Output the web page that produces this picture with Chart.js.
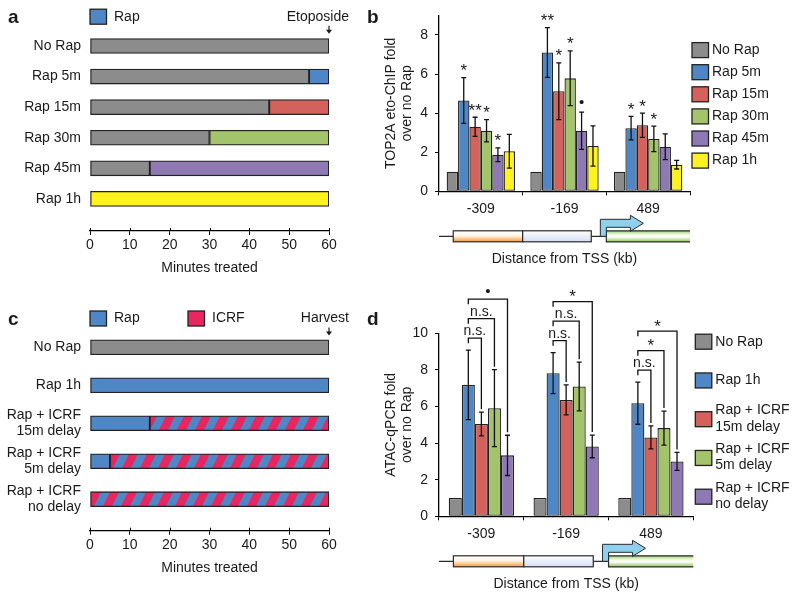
<!DOCTYPE html>
<html>
<head>
<meta charset="utf-8">
<title>Rap / ICRF time course and TOP2A / ATAC enrichment</title>
<script src="https://cdn.jsdelivr.net/npm/chart.js@4.4.1/dist/chart.umd.min.js"></script>
<style>
  body { margin: 0; background: #fff; }
  #page { position: relative; width: 800px; height: 599px; overflow: hidden; font-family: "Liberation Sans", Arial, sans-serif; color: #1a1a1a; }
  .panel { position: absolute; }
  .tag { position: absolute; font-size: 19px; font-weight: bold; line-height: 19px; }
</style>
</head>
<body>
<div id="page">
  <canvas class="panel" id="timeA" width="380" height="280" style="left:0;top:0"></canvas>
  <canvas class="panel" id="chipB" width="420" height="280" style="left:380px;top:0"></canvas>
  <canvas class="panel" id="timeC" width="380" height="319" style="left:0;top:280px"></canvas>
  <canvas class="panel" id="atacD" width="420" height="319" style="left:380px;top:280px"></canvas>
  <div class="tag" style="left:8px;top:7px">a</div>
  <div class="tag" style="left:367px;top:7px">b</div>
  <div class="tag" style="left:8px;top:309px">c</div>
  <div class="tag" style="left:367px;top:309px">d</div>
</div>

<script>
// ===============================================
// Data
// ===============================================

// panel a - minutes before / after Rap, etoposide at 60
const aRows = ['No Rap', 'Rap 5m', 'Rap 15m', 'Rap 30m', 'Rap 45m', 'Rap 1h'];
const aNoRapMin = [60, 55, 45, 30, 15, 0];
const aRapMin = [0, 5, 15, 30, 45, 60];

// panel b - TOP2A eto-ChIP fold over no Rap
const loci = ['-309', '-169', '489'];
const bSeries = ['No Rap', 'Rap 5m', 'Rap 15m', 'Rap 30m', 'Rap 45m', 'Rap 1h'];
const bNoRap = [1, 1, 1];
const bRap5m = [4.65, 7.10, 3.23];
const bRap15m = [3.30, 5.12, 3.38];
const bRap30m = [3.10, 5.78, 2.68];
const bRap45m = [1.87, 3.10, 2.28];
const bRap1h = [2.05, 2.32, 1.36];
const bErr5m = [1.17, 1.27, 0.60];
const bErr15m = [0.49, 1.45, 0.62];
const bErr30m = [0.57, 1.40, 0.65];
const bErr45m = [0.35, 0.95, 0.66];
const bErr1h = [0.86, 1.03, 0.22];
const bSig5m = ['*', '**', '*'];
const bSig15m = ['**', '*', '*'];
const bSig30m = ['*', '*', '*'];
const bSig45m = ['*', '\u2022', ''];
const bSig1h = ['', '', ''];

// panel c - Rap and ICRF timing, harvest at 60
const cRows = ['No Rap', 'Rap 1h', ['Rap + ICRF', '15m delay'], ['Rap + ICRF', '5m delay'], ['Rap + ICRF', 'no delay']];
const cNoRapMin = [60, 0, 0, 0, 0];
const cRapMin = [0, 60, 15, 5, 0];
const cIcrfMin = [0, 0, 45, 55, 60];

// panel d - ATAC-qPCR fold over no Rap
const dSeries = [['No Rap'], ['Rap 1h'], ['Rap + ICRF', '15m delay'], ['Rap + ICRF', '5m delay'], ['Rap + ICRF', 'no delay']];
const dNoRap = [1, 1, 1];
const dRap1h = [7.18, 7.82, 6.18];
const dDelay15 = [5.04, 6.36, 4.31];
const dDelay5 = [5.91, 7.09, 4.82];
const dNoDelay = [3.33, 3.82, 3.00];
const dErr1h = [1.90, 1.12, 1.15];
const dErr15 = [0.65, 0.82, 0.63];
const dErr5 = [2.10, 1.33, 0.93];
const dErr0 = [1.10, 0.62, 0.49];
// Rap 1h compared with each ICRF condition
const dSig15 = ['n.s.', 'n.s.', 'n.s.'];
const dSig5 = ['n.s.', 'n.s.', '*'];
const dSig0 = ['\u2022', '*', '*'];

// ===============================================
// Styles
// ===============================================
const GREY = '#8c8c8c';
const BLUE = '#4f87c6';
const RED = '#d2625b';
const GREEN = '#a3c46b';
const PURPLE = '#8e79b5';
const YELLOW = '#fff21e';
const PINK = '#e8265f';
const EDGE = '#222';
const INK = '#1a1a1a';
const FONT = '"Liberation Sans", Arial, Helvetica, sans-serif';

Chart.defaults.font.family = FONT;
Chart.defaults.font.size = 14;
Chart.defaults.color = INK;
Chart.defaults.animation = false;
Chart.defaults.plugins.legend.display = false;
Chart.defaults.plugins.tooltip.enabled = false;

// diagonal blue / pink stripes for ICRF
function makeStripes() {
    const tile = document.createElement('canvas');
    tile.width = 18;
    tile.height = 36;
    const g = tile.getContext('2d');
    g.fillStyle = BLUE;
    g.fillRect(0, 0, 18, 36);
    g.fillStyle = PINK;
    [-18, 0, 18].forEach(k => {
        g.beginPath();
        g.moveTo(k, 36);
        g.lineTo(k + 9, 36);
        g.lineTo(k + 27, 0);
        g.lineTo(k + 18, 0);
        g.closePath();
        g.fill();
    });
    return g.createPattern(tile, 'repeat');
}
const STRIPES = makeStripes();

// ===============================================
// Drawing helpers
// ===============================================
function keyBox(ctx, x, cy, fill) {
    ctx.fillStyle = fill;
    ctx.fillRect(x, cy - 7.5, 16.5, 15);
    ctx.strokeStyle = EDGE;
    ctx.lineWidth = 1.3;
    ctx.strokeRect(x, cy - 7.5, 16.5, 15);
}

// centre a significance mark visually on cy
function drawMark(ctx, text, x, cy) {
    if (!text) return;
    ctx.textAlign = 'center';
    ctx.textBaseline = 'alphabetic';
    ctx.fillStyle = INK;
    if (/^\*+$/.test(text)) {
        ctx.font = '17px ' + FONT;
        ctx.fillText(text, x, cy + 0.56 * 17);
    } else if (text === '\u2022') {
        ctx.font = '15px ' + FONT;
        ctx.fillText(text, x, cy + 0.37 * 15);
    } else {
        ctx.font = '14px ' + FONT;
        ctx.fillText(text, x, cy + 0.26 * 14);
    }
}

function downArrow(ctx, x, y1, y2) {
    ctx.strokeStyle = INK;
    ctx.fillStyle = INK;
    ctx.lineWidth = 1.2;
    ctx.beginPath();
    ctx.moveTo(x, y1);
    ctx.lineTo(x, y2 - 3);
    ctx.stroke();
    ctx.beginPath();
    ctx.moveTo(x - 3, y2 - 4);
    ctx.lineTo(x + 3, y2 - 4);
    ctx.lineTo(x, y2);
    ctx.closePath();
    ctx.fill();
}

// legend row, end-point label and inner tick stubs of a timeline panel
function timelineKey(keys, keyY, endLabel) {
    return {
        id: 'timelineKey',
        afterDraw(chart) {
            const { ctx, chartArea: area, scales: { x: xs } } = chart;
            ctx.save();
            keys.forEach(k => {
                const x = area.left + k.dx;
                keyBox(ctx, x, keyY, k.fill);
                ctx.fillStyle = INK;
                ctx.font = '14px ' + FONT;
                ctx.textAlign = 'left';
                ctx.textBaseline = 'middle';
                ctx.fillText(k.text, x + 24, keyY);
            });
            ctx.textAlign = 'right';
            ctx.textBaseline = 'middle';
            ctx.fillStyle = INK;
            ctx.fillText(endLabel, area.right + 20, keyY);
            downArrow(ctx, area.right, keyY + 9, keyY + 17);

            // ticks cross the axis line
            ctx.strokeStyle = '#000';
            ctx.lineWidth = 1;
            ctx.beginPath();
            xs.ticks.forEach(t => {
                const px = Math.round(xs.getPixelForValue(t.value)) + 0.5;
                ctx.moveTo(px, area.bottom - 3);
                ctx.lineTo(px, area.bottom);
            });
            ctx.stroke();
            ctx.restore();
        }
    };
}

function errorBars(errs) {
    return {
        id: 'errorBars',
        afterDatasetsDraw(chart) {
            const { ctx, scales: { y } } = chart;
            ctx.save();
            ctx.strokeStyle = '#111';
            ctx.lineWidth = 1.3;
            errs.forEach((list, i) => {
                if (!list) return;
                const meta = chart.getDatasetMeta(i);
                list.forEach((e, j) => {
                    const v = chart.data.datasets[i].data[j];
                    const x = meta.data[j].x;
                    const top = y.getPixelForValue(v + e);
                    const bot = y.getPixelForValue(v - e);
                    ctx.beginPath();
                    ctx.moveTo(x, top); ctx.lineTo(x, bot);
                    ctx.moveTo(x - 2.5, top); ctx.lineTo(x + 2.5, top);
                    ctx.moveTo(x - 2.5, bot); ctx.lineTo(x + 2.5, bot);
                    ctx.stroke();
                });
            });
            ctx.restore();
        }
    };
}

// promoter sketch under the x axis of b and d
function locusMap() {
    return {
        id: 'locusMap',
        afterDraw(chart) {
            const { ctx, chartArea: area } = chart;
            const w = (area.right - area.left) / chart.data.labels.length;
            const yc = area.bottom + 45;
            const x0 = area.left + 2 * w;
            const b1 = area.left + 0.17 * w;
            const b2 = area.left + w;
            const b3 = area.left + 1.82 * w;
            ctx.save();
            ctx.strokeStyle = '#2a2a2a';
            ctx.lineWidth = 1.2;
            ctx.beginPath();
            ctx.moveTo(area.left, yc); ctx.lineTo(b1, yc);
            ctx.moveTo(b3, yc); ctx.lineTo(x0, yc);
            ctx.stroke();

            const box = (xa, xb, stops) => {
                const g = ctx.createLinearGradient(0, yc - 5.5, 0, yc + 5.5);
                stops.forEach(([p, c]) => g.addColorStop(p, c));
                ctx.fillStyle = g;
                ctx.fillRect(xa, yc - 5.5, xb - xa, 11);
                ctx.strokeRect(xa, yc - 5.5, xb - xa, 11);
            };
            box(b1, b2, [[0, '#ffffff'], [0.45, '#fff4e8'], [1, '#f39a3c']]);
            box(b2, b3, [[0, '#ffffff'], [1, '#d3ddf4']]);

            // transcribed region, open to the right
            const g = ctx.createLinearGradient(0, yc - 5.5, 0, yc + 5.5);
            g.addColorStop(0, '#9fd26c');
            g.addColorStop(0.35, '#eef8e2');
            g.addColorStop(0.55, '#ffffff');
            g.addColorStop(1, '#8cc85a');
            ctx.fillStyle = g;
            ctx.fillRect(x0, yc - 5.5, area.right - x0, 11);
            ctx.beginPath();
            ctx.moveTo(area.right, yc - 5.5); ctx.lineTo(x0, yc - 5.5);
            ctx.lineTo(x0, yc + 5.5); ctx.lineTo(area.right, yc + 5.5);
            ctx.stroke();

            // TSS arrow
            ctx.beginPath();
            ctx.moveTo(x0 - 6, yc);
            ctx.lineTo(x0 - 6, yc - 17);
            ctx.lineTo(x0 + 24, yc - 17);
            ctx.lineTo(x0 + 24, yc - 21);
            ctx.lineTo(x0 + 37, yc - 13);
            ctx.lineTo(x0 + 24, yc - 5);
            ctx.lineTo(x0 + 24, yc - 9);
            ctx.lineTo(x0, yc - 9);
            ctx.lineTo(x0, yc);
            ctx.closePath();
            ctx.fillStyle = '#8ed0ee';
            ctx.fill();
            ctx.lineWidth = 1;
            ctx.stroke();
            ctx.restore();
        }
    };
}

function barKey(lines, colors, firstY, step) {
    return {
        id: 'barKey',
        afterDraw(chart) {
            const { ctx, chartArea: area } = chart;
            ctx.save();
            lines.forEach((txt, i) => {
                const cy = area.top + firstY + i * step;
                const x = area.right + 2;
                keyBox(ctx, x, cy, colors[i]);
                ctx.fillStyle = INK;
                ctx.font = '14px ' + FONT;
                ctx.textAlign = 'left';
                ctx.textBaseline = 'middle';
                if (txt.length === 1) {
                    ctx.fillText(txt[0], x + 20, cy);
                } else {
                    ctx.fillText(txt[0], x + 20, cy - 9);
                    ctx.fillText(txt[1], x + 20, cy + 7.5);
                }
            });
            ctx.restore();
        }
    };
}

const timeScaleX = (height, titlePad) => ({
    type: 'linear',
    stacked: true,
    min: 0,
    max: 60,
    ticks: { stepSize: 10, padding: 2 },
    grid: { drawOnChartArea: false, tickLength: 4, color: '#000' },
    border: { color: '#000', width: 1.3 },
    title: { display: true, text: 'Minutes treated', padding: { top: 0, bottom: titlePad } },
    afterFit: s => { s.height = height; }
});

const rowScaleY = (rows, max) => ({
    type: 'linear',
    stacked: true,
    reverse: true,
    offset: false,
    min: -0.5,
    max: max,
    afterBuildTicks: s => { s.ticks = rows.map((_, i) => ({ value: i })); },
    ticks: { padding: 9, callback: v => rows[v], font: { lineHeight: 1.15 } },
    grid: { display: false, drawTicks: false, offset: false },
    border: { display: false },
    afterFit: s => { s.width = 90; }
});

const foldScales = (labelLines, max, axisHeight, titlePad) => ({
    x: {
        grid: { offset: true, drawOnChartArea: false, tickLength: 4, color: '#000' },
        border: { color: '#000', width: 1.3 },
        ticks: { padding: 5 },
        title: { display: true, text: 'Distance from TSS (kb)', padding: { top: 0, bottom: titlePad } },
        afterFit: s => { s.height = axisHeight; }
    },
    y: {
        min: 0,
        max: max,
        ticks: { stepSize: 2, includeBounds: false, padding: 7 },
        grid: { drawOnChartArea: false, tickLength: 4, color: '#000' },
        border: { color: '#000', width: 1.3 },
        title: { display: true, text: labelLines, padding: { top: 2.3, bottom: 0 } },
        afterFit: s => { s.width = 59; }
    }
});

const toPoints = arr => arr.map((v, i) => ({ x: v, y: i }));

// ===============================================
// Panel a
// ===============================================
new Chart(document.getElementById('timeA'), {
    type: 'bar',
    data: {
        datasets: [
            { label: 'No Rap', data: toPoints(aNoRapMin), backgroundColor: GREY },
            { label: 'Rap', data: toPoints(aRapMin), backgroundColor: [GREY, BLUE, RED, GREEN, PURPLE, YELLOW] }
        ]
    },
    options: {
        responsive: false,
        indexAxis: 'y',
        layout: { padding: { top: 30.7, right: 51, left: 0, bottom: 0 } },
        datasets: { bar: { barThickness: 15, borderWidth: 1.3, borderColor: EDGE, borderSkipped: false } },
        scales: { x: timeScaleX(49, 3.6), y: rowScaleY(aRows, 6.05) }
    },
    plugins: [timelineKey([{ text: 'Rap', fill: BLUE, dx: 0 }], 16.7, 'Etoposide')]
});

// ===============================================
// Panel b
// ===============================================
const bColors = [GREY, BLUE, RED, GREEN, PURPLE, YELLOW];
const bValues = [bNoRap, bRap5m, bRap15m, bRap30m, bRap45m, bRap1h];
const bErrors = [null, bErr5m, bErr15m, bErr30m, bErr45m, bErr1h];
const bSigs = [null, bSig5m, bSig15m, bSig30m, bSig45m, bSig1h];

new Chart(document.getElementById('chipB'), {
    type: 'bar',
    data: {
        labels: loci,
        datasets: bSeries.map((name, i) => ({ label: name, data: bValues[i], backgroundColor: bColors[i] }))
    },
    options: {
        responsive: false,
        layout: { padding: { top: 9, right: 110, left: 0, bottom: 0 } },
        datasets: { bar: { categoryPercentage: 0.817, barPercentage: 1, borderWidth: 1.3, borderColor: EDGE, borderSkipped: false } },
        scales: foldScales(['TOP2A eto-ChIP fold', 'over no Rap'], 9, 88.7, 12.6)
    },
    plugins: [
        errorBars(bErrors),
        {
            id: 'chipMarks',
            afterDatasetsDraw(chart) {
                const { ctx, scales: { y } } = chart;
                ctx.save();
                bSigs.forEach((list, i) => {
                    if (!list) return;
                    const meta = chart.getDatasetMeta(i);
                    list.forEach((m, j) => {
                        const top = y.getPixelForValue(bValues[i][j] + bErrors[i][j]);
                        drawMark(ctx, m, meta.data[j].x, top - 11);
                    });
                });
                ctx.restore();
            }
        },
        locusMap(),
        barKey(bSeries.map(s => [s]), bColors, 34.7, 22.1)
    ]
});

// ===============================================
// Panel c
// ===============================================
new Chart(document.getElementById('timeC'), {
    type: 'bar',
    data: {
        datasets: [
            { label: 'No Rap', data: toPoints(cNoRapMin), backgroundColor: GREY },
            { label: 'Rap', data: toPoints(cRapMin), backgroundColor: BLUE },
            { label: 'ICRF', data: toPoints(cIcrfMin), backgroundColor: STRIPES }
        ]
    },
    options: {
        responsive: false,
        indexAxis: 'y',
        layout: { padding: { top: 48.3, right: 51, left: 0, bottom: 0 } },
        datasets: { bar: { barThickness: 15, borderWidth: 1.3, borderColor: EDGE, borderSkipped: false } },
        scales: { x: timeScaleX(68.3, 22.6), y: rowScaleY(cRows, 4.83) }
    },
    plugins: [timelineKey([{ text: 'Rap', fill: BLUE, dx: 0 }, { text: 'ICRF', fill: PINK, dx: 98 }], 38.5, 'Harvest')]
});

// ===============================================
// Panel d
// ===============================================
const dColors = [GREY, BLUE, RED, GREEN, PURPLE];
const dValues = [dNoRap, dRap1h, dDelay15, dDelay5, dNoDelay];
const dErrors = [null, dErr1h, dErr15, dErr5, dErr0];
const dSigs = [dSig15, dSig5, dSig0];

new Chart(document.getElementById('atacD'), {
    type: 'bar',
    data: {
        labels: loci,
        datasets: dSeries.map((lines, i) => ({ label: lines.join(' '), data: dValues[i], backgroundColor: dColors[i] }))
    },
    options: {
        responsive: false,
        layout: { padding: { top: 53.3, right: 106.7, left: 0, bottom: 0 } },
        datasets: { bar: { categoryPercentage: 0.77, barPercentage: 1, borderWidth: 1.3, borderColor: EDGE, borderSkipped: false } },
        scales: foldScales(['ATAC-qPCR fold', 'over no Rap'], 10, 82.7, 6.6)
    },
    plugins: [
        errorBars(dErrors),
        {
            id: 'brackets',
            afterDraw(chart) {
                const { ctx, scales: { y } } = chart;
                const errTop = (i, j) => y.getPixelForValue(dValues[i][j] + dErrors[i][j]);
                ctx.save();
                ctx.strokeStyle = '#111';
                ctx.lineWidth = 1.3;
                loci.forEach((_, j) => {
                    const left = chart.getDatasetMeta(1).data[j].x;
                    let high = Infinity;
                    for (let i = 1; i < dValues.length; i++) high = Math.min(high, errTop(i, j));
                    dSigs.forEach((sig, k) => {
                        const i = k + 2;
                        const right = chart.getDatasetMeta(i).data[j].x;
                        const ly = high - 12 - k * 19.5;
                        ctx.beginPath();
                        ctx.moveTo(left, ly + 5);
                        ctx.lineTo(left, ly);
                        ctx.lineTo(right, ly);
                        ctx.lineTo(right, errTop(i, j) - 3);
                        ctx.stroke();
                        const mid = (left + right) / 2;
                        drawMark(ctx, sig[j], mid, sig[j] === 'n.s.' ? ly - 6.5 : ly - 9);
                    });
                });
                ctx.restore();
            }
        },
        locusMap(),
        barKey(dSeries, dColors, 8.4, 38.75)
    ]
});
</script>
</body>
</html>
